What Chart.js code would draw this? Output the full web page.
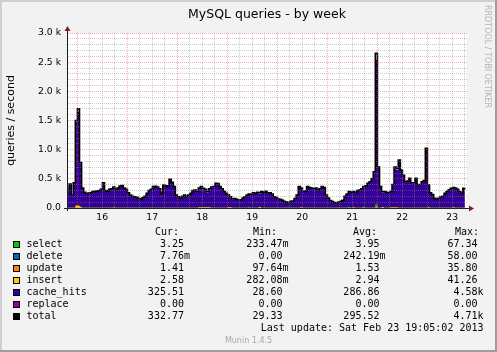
<!DOCTYPE html>
<html>
<head>
<meta charset="utf-8">
<script src="https://cdn.jsdelivr.net/npm/chart.js@4.4.1/dist/chart.umd.min.js"></script>
<style>
  html, body { margin: 0; padding: 0; background: #f2f2f2; }
  canvas { display: block; }
</style>
</head>
<body>
<canvas id="munin" width="497" height="352"></canvas>
<script>
// ── DATA ────────────────────────────────────────────────────────────
// x = hours since Fri Feb 15 00:00; first sample at 19:05, one per hour
const startHour = 19 + 5 / 60;
const dayLabels = ["16", "17", "18", "19", "20", "21", "22", "23"];

// total queries / second (LINE1 on top)
const totalQps = [
  309, 411, 223, 430, 1500, 1700, 780, 340,   270, 240, 257, 260, 280, 285, 290, 300,
  320, 430, 300, 290, 320, 330, 360, 310,     340, 375, 385, 340, 320, 260, 220, 200,
  190, 183, 160, 150, 175, 200, 251, 300,     320, 366, 370, 360, 330, 250, 394, 370,
  380, 491, 440, 366, 220, 194, 166, 200,     223, 194, 220, 251, 300, 309, 280, 340,
  366, 337, 320, 280, 330, 360, 366, 423,     420, 366, 330, 280, 250, 223, 194, 154,
  160, 150, 137, 140, 170, 194, 220, 240,     235, 262, 250, 270, 262, 280, 270, 285,
  257, 260, 240, 194, 180, 154, 150, 130,     110, 100, 86, 114, 120, 160, 220, 366,
  340, 280, 290, 366, 350, 343, 330, 340,     309, 330, 366, 350, 223, 170, 126, 110,
  95, 86, 100, 114, 130, 200, 240, 280,       270, 280, 257, 300, 309, 330, 366, 380,
  423, 451, 500, 620, 2650, 700, 366, 280,    280, 270, 262, 280, 400, 700, 680, 823,
  650, 560, 451, 460, 509, 430, 430, 509,     400, 394, 451, 470, 1025, 394, 260, 230,
  166, 150, 166, 194, 200, 250, 280, 310,     337, 350, 343, 320, 280, 251, 337, 340
];

// cache_hits (the big indigo area)
const cacheHits = [
  300, 402, 214, 421, 1480, 1650, 765, 331,   261, 231, 248, 251, 271, 276, 281, 291,
  311, 421, 291, 281, 311, 321, 348, 301,     331, 366, 376, 331, 311, 251, 211, 191,
  181, 174, 151, 141, 166, 191, 242, 291,     311, 357, 361, 351, 321, 241, 385, 361,
  371, 482, 431, 357, 211, 185, 157, 191,     214, 185, 211, 242, 291, 300, 271, 322,
  345, 318, 305, 262, 318, 351, 357, 414,     411, 357, 321, 271, 241, 210, 178, 142,
  151, 141, 128, 131, 161, 185, 211, 222,     226, 253, 241, 261, 245, 271, 261, 276,
  248, 251, 231, 185, 171, 145, 141, 121,     101, 91, 77, 105, 111, 151, 211, 348,
  331, 271, 281, 357, 341, 334, 321, 331,     300, 321, 357, 341, 214, 161, 117, 101,
  86, 77, 91, 105, 121, 191, 231, 262,        261, 262, 248, 291, 300, 321, 345, 371,
  414, 442, 491, 605, 2540, 688, 355, 266,    271, 261, 253, 268, 385, 672, 655, 812,
  641, 551, 442, 451, 500, 421, 421, 500,     391, 385, 442, 461, 1005, 385, 251, 221,
  157, 141, 157, 185, 191, 241, 271, 301,     328, 341, 334, 311, 271, 242, 328, 325
];

// small series, given as (sample index, value) change points
const selectAt  = [0, 87, 88, 135, 136, 148, 149, 191];
const selectVal = [4, 14, 4, 16, 4, 67, 4, 4];
const deleteAt  = [0, 134, 135, 148, 149, 191];
const deleteVal = [0.2, 16, 0.2, 50, 0.2, 0.2];
const updateAt  = [0, 5, 6, 22, 23, 137, 138, 148, 149, 155, 159, 191];
const updateVal = [1.5, 30, 1.5, 14, 1.5, 16, 1.5, 35.8, 1.5, 14, 1.5, 1.5];
const insertAt  = [0, 4, 6, 7, 63, 69, 77, 79, 92, 93, 112, 113, 142, 143, 151, 152, 173, 174, 185, 186, 191];
const insertVal = [3, 41, 20, 3, 14, 3, 14, 3, 16, 3, 14, 3, 14, 3, 16, 3, 14, 3, 14, 3, 3];
const replaceAt  = [0, 191];
const replaceVal = [0, 0];

// legend table
const legendNames  = ["select", "delete", "update", "insert", "cache_hits", "replace", "total"];
const legendColors = ["#00CC00", "#0066B3", "#FF8000", "#FFCC00", "#330099", "#990099", "#000000"];
const curText = ["3.25", "7.76m", "1.41", "2.58", "325.51", "0.00", "332.77"];
const minText = ["233.47m", "0.00", "97.64m", "282.08m", "28.60", "0.00", "29.33"];
const avgText = ["3.95", "242.19m", "1.53", "2.94", "286.86", "0.00", "295.52"];
const maxText = ["67.34", "58.00", "35.80", "41.26", "4.58k", "0.00", "4.71k"];
const lastUpdate = "Last update: Sat Feb 23 19:05:02 2013";

// ── STYLE ───────────────────────────────────────────────────────────
const SANS  = "'DejaVu Sans', sans-serif";
const MONO  = "'DejaVu Sans Mono', monospace";
const GRID  = "rgba(143,143,143,0.45)";
const MGRID = "rgba(225,70,70,0.45)";
const AXIS  = "#1f1f1f";
const ARROW = "#801f1f";

const hourly = vals => vals.map((v, i) => ({ x: startHour + i, y: v }));
const steps  = (at, vals) => at.map((i, k) => ({ x: startHour + i, y: vals[k] }));

// 6-hour grid, midnights are the major lines
const gridHours = [];
for (let h = 24; h < startHour + 192; h += 6) gridHours.push(h);

// each value is held until the next sample
function area(label, data, color) {
  return { label, data, backgroundColor: color, borderColor: color, borderWidth: 0,
           fill: "origin", stepped: "before", pointRadius: 0 };
}

// ── FRAME / LEGEND PLUGIN ───────────────────────────────────────────
const muninFrame = {
  id: "muninFrame",
  beforeDraw(chart) {
    const { ctx, chartArea: a } = chart;
    ctx.save();
    ctx.fillStyle = "#f2f2f2";
    ctx.fillRect(0, 0, chart.width, chart.height);
    ctx.fillStyle = "#ffffff";
    ctx.fillRect(a.left, a.top, a.right - a.left, a.bottom - a.top);
    ctx.restore();
  },
  afterDraw(chart) {
    const { ctx, chartArea: a } = chart;
    const W = chart.width, H = chart.height;
    ctx.save();

    // axis extensions + arrows
    ctx.strokeStyle = AXIS;
    ctx.lineWidth = 1;
    ctx.beginPath();
    ctx.moveTo(a.left + 0.5, a.bottom + 3); ctx.lineTo(a.left + 0.5, a.top - 3);
    ctx.moveTo(a.left - 3, a.bottom + 0.5); ctx.lineTo(a.right + 3, a.bottom + 0.5);
    ctx.stroke();
    ctx.fillStyle = ARROW;
    ctx.beginPath();
    ctx.moveTo(a.left + 0.5, a.top - 7);
    ctx.lineTo(a.left - 2.5, a.top - 2);
    ctx.lineTo(a.left + 3.5, a.top - 2);
    ctx.closePath(); ctx.fill();
    ctx.beginPath();
    ctx.moveTo(a.right + 7, a.bottom + 0.5);
    ctx.lineTo(a.right + 2, a.bottom - 2.5);
    ctx.lineTo(a.right + 2, a.bottom + 3.5);
    ctx.closePath(); ctx.fill();

    // legend table
    ctx.font = "10px " + MONO;
    ctx.textBaseline = "middle";
    ctx.fillStyle = "#000";
    ctx.textAlign = "left";
    const headY = 232.5;
    ctx.fillText("Cur:", 155, headY);
    ctx.fillText("Min:", 253, headY);
    ctx.fillText("Avg:", 353, headY);
    ctx.fillText("Max:", 455, headY);
    const cols = [[curText, 190], [minText, 288.5], [avgText, 385.5], [maxText, 483.5]];
    legendNames.forEach((name, r) => {
      const y = 244.7 + r * 12;
      ctx.fillStyle = legendColors[r];
      ctx.fillRect(13, Math.round(y) - 4, 7, 7);
      ctx.strokeStyle = "#000";
      ctx.strokeRect(13.5, Math.round(y) - 3.5, 6, 6);
      ctx.fillStyle = "#000";
      ctx.textAlign = "left";
      ctx.fillText(name, 26.5, y);
      ctx.textAlign = "right";
      cols.forEach(([vals, edge]) => {
        const s = vals[r];
        ctx.fillText(/[mk]$/.test(s) ? s : s + " ", edge, y);
      });
    });
    ctx.textAlign = "right";
    ctx.fillText(lastUpdate, 483.5, 328.7);

    // watermarks
    ctx.font = "8px " + SANS;
    ctx.fillStyle = "#a8a8a8";
    ctx.textAlign = "center";
    ctx.fillText("Munin 1.4.5", 248.5, 341);
    ctx.save();
    ctx.translate(487.5, 5);
    ctx.rotate(Math.PI / 2);
    ctx.textAlign = "left";
    ctx.fillStyle = "#b4b4b4";
    ctx.fillText("RRDTOOL / TOBI OETIKER", 0, 0);
    ctx.restore();

    // 3d frame
    ctx.fillStyle = "#cfcfcf";
    ctx.fillRect(0, 0, W, 2);
    ctx.fillRect(0, 0, 2, H);
    ctx.fillStyle = "#9e9e9e";
    ctx.fillRect(0, H - 2, W, 2);
    ctx.fillRect(W - 2, 0, 2, H);
    ctx.restore();
  }
};

// ── CHART ───────────────────────────────────────────────────────────
new Chart(document.getElementById("munin"), {
  type: "line",
  data: {
    datasets: [
      { label: "total", data: hourly(totalQps), borderColor: "#000", borderWidth: 1.6,
        fill: false, stepped: "before", pointRadius: 0 },
      area("replace", steps(replaceAt, replaceVal), "#990099"),
      area("insert",  steps(insertAt, insertVal),   "#FFCC00"),
      area("update",  steps(updateAt, updateVal),   "#FF8000"),
      area("delete",  steps(deleteAt, deleteVal),   "#0066B3"),
      area("select",  steps(selectAt, selectVal),   "#00CC00"),
      area("cache_hits", hourly(cacheHits),         "#330099"),
    ],
  },
  options: {
    responsive: false,
    animation: false,
    devicePixelRatio: 1,
    events: [],
    layout: { padding: { left: 0, right: 30, top: 0, bottom: 124 } },
    plugins: {
      legend: { display: false },
      tooltip: { enabled: false },
      title: {
        display: true, fullSize: false,
        text: "MySQL queries - by week",
        color: "#000",
        font: { family: SANS, size: 12.5, weight: "normal" },
        padding: { top: 7, bottom: 11 },
      },
    },
    scales: {
      x: {
        type: "linear",
        min: startHour, max: startHour + 192,
        afterBuildTicks: s => { s.ticks = gridHours.map(v => ({ value: v })); },
        afterFit: s => { s.height = 20; },
        grid: { color: c => (c.tick && c.tick.value % 24 === 0 ? MGRID : GRID), drawTicks: false, z: 1 },
        border: { color: AXIS, dash: [1, 1], z: 1 },
        ticks: {
          autoSkip: false, maxRotation: 0, padding: 4, color: "#000",
          font: { family: SANS, size: 9.25 },
          callback: v => (v % 24 === 12 ? dayLabels[(v - 36) / 24] : ""),
        },
      },
      y: {
        min: 0, max: 3000,
        afterFit: s => { s.width = 67; },
        grid: { color: c => (c.tick && c.tick.value % 500 === 0 ? MGRID : GRID), drawTicks: false, z: 1 },
        border: { color: AXIS, dash: [1, 1], z: 1 },
        ticks: {
          stepSize: 100, autoSkip: false, padding: 6, color: "#000",
          font: { family: SANS, size: 9.25 },
          callback: v => (v % 500 ? "" : v === 0 ? "0.0" : (v / 1000).toFixed(1) + " k"),
        },
        title: {
          display: true, text: "queries / second", color: "#000",
          font: { family: SANS, size: 11 },
          padding: { top: 5, bottom: 0 },
        },
      },
    },
  },
  plugins: [muninFrame],
});
</script>
</body>
</html>
